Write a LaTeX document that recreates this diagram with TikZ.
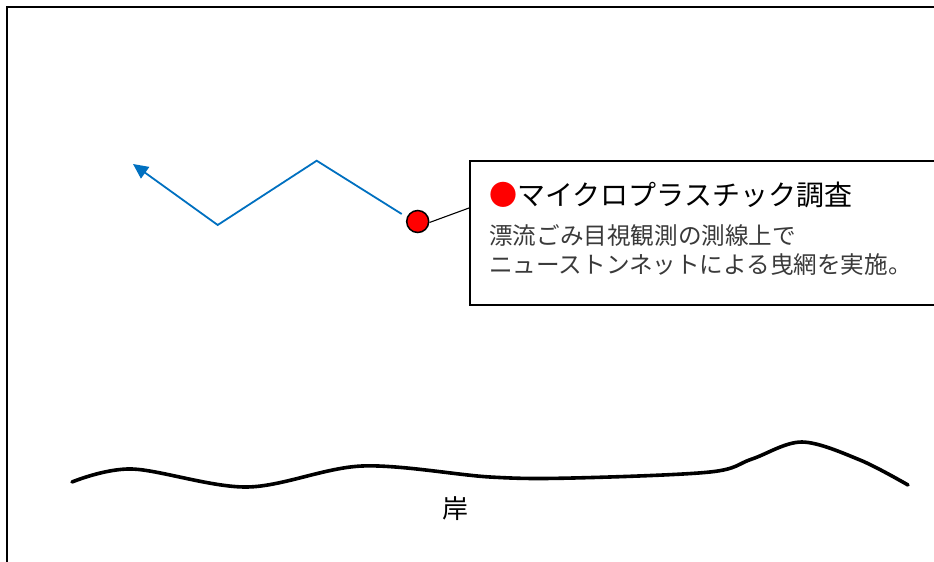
\documentclass[tikz,border=0pt]{standalone}
\usepackage{fontspec}
\newfontfamily\jp{Noto Sans CJK JP}
\usetikzlibrary{arrows.meta}
\definecolor{routeblue}{HTML}{0070C0}
\definecolor{bodygray}{HTML}{3A3A3A}
\tikzset{
  frameline/.style={line width=2.6pt, black},
  route/.style={line width=1.8pt, routeblue, -{Triangle[length=15pt,width=14pt]}},
  samplept/.style={circle, fill=red, draw=black, line width=1.5pt, minimum size=22pt, inner sep=0pt},
  callout/.style={draw=black, line width=1.8pt, fill=white, anchor=north west, inner sep=0pt},
  titletext/.style={anchor=base west, inner sep=0pt, font=\jp\fontsize{28pt}{30pt}\selectfont},
  bodytext/.style={anchor=base west, inner sep=0pt, text=bodygray, font=\jp\fontsize{23.6pt}{28pt}\selectfont},
  shore/.style={line width=3.6pt, black, line cap=round, line join=round},
}
\begin{document}
\begin{tikzpicture}[x=1pt,y=-1pt]
\useasboundingbox (0,0) rectangle (934,562);
\clip (0,0) rectangle (934,562);
% frame (open on right and bottom)
\draw[frameline] (7,570) -- (7,7) -- (940,7);
% route
\coordinate (r0) at (401.7,214);
\coordinate (r1) at (316.7,160.7);
\coordinate (r2) at (217.7,225);
\coordinate (r3) at (133,164);
\draw[route] (r0) -- (r1) -- (r2) -- (r3);
% sample point
\node[samplept] (pt) at (417.7,221.5) {};
% callout box
\node[callout, minimum width=480pt, minimum height=144pt] (box) at (469,160) {};
\draw[line width=1.1pt] (pt.east) ++(0,1) -- (box.west |- 0,208);
\node[titletext] (title) at (489,205) {\textcolor{red}{●}マイクロプラスチック調査};
\node[bodytext] (l1) at (489,244) {漂流ごみ目視観測の測線上で};
\node[bodytext] (l2) at (489,273) {ニューストンネットによる曳網を実施。};
% shore
\draw[shore] plot[smooth, tension=0.55] coordinates {(72,482) (132,469) (247,487) (362,466) (490,477) (573,478) (710,472) (752,459) (802,442) (860,460) (908,485)};
\node[font=\jp\fontsize{26pt}{28pt}\selectfont, inner sep=0pt] (kishi) at (455,509) {岸};
\end{tikzpicture}
\end{document}
